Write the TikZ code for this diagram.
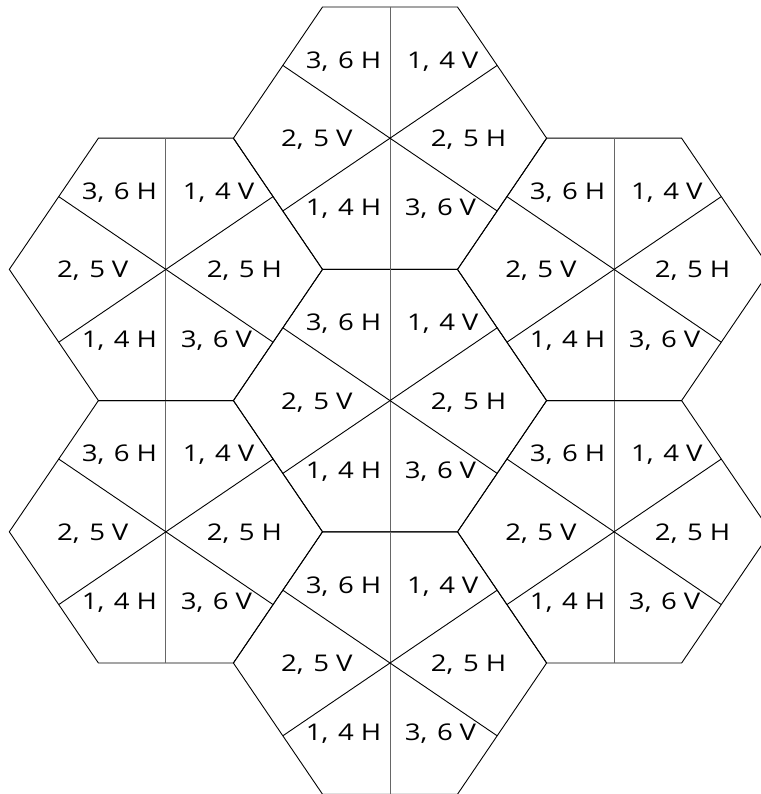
\documentclass[tikz,border=0pt]{standalone}
\usepackage{fontspec}
\setmainfont{Open Sans}[FakeStretch=1.2]
\usetikzlibrary{calc}
\newcommand{\hexlabel}[3]{#1,\kern2.5pt\ #2\kern-0.3pt\ #3}
\tikzset{
  hexedge/.style={line width=0.9pt, black},
  midline/.style={line width=0.9pt, black!60},
  lbl/.style={font=\fontsize{23}{26}\selectfont, anchor=base, inner sep=0pt},
}
\begin{document}
\begin{tikzpicture}[x=1pt,y=-1pt]
\useasboundingbox (0,0) rectangle (760,794);
\foreach \n/\cx/\cy in {T/390/138.2, C/390/400.6, B/390/663, TL/165.9/269.4, BL/165.9/531.8, TR/614.1/269.4, BR/614.1/531.8}{
  \coordinate (\n) at (\cx,\cy);
  \coordinate (\n-tr) at ($(\n)+(67.5,-131.2)$);
  \coordinate (\n-r)  at ($(\n)+(156.6,0)$);
  \coordinate (\n-br) at ($(\n)+(67.5,131.2)$);
  \coordinate (\n-bl) at ($(\n)+(-67.5,131.2)$);
  \coordinate (\n-l)  at ($(\n)+(-156.6,0)$);
  \coordinate (\n-tl) at ($(\n)+(-67.5,-131.2)$);
  \draw[hexedge] (\n-tr) -- (\n-r) -- (\n-br) -- (\n-bl) -- (\n-l) -- (\n-tl) -- cycle;
  \draw[midline] ($(\n-tl)!0.5!(\n-tr)$) -- ($(\n-bl)!0.5!(\n-br)$);
  \draw[hexedge] ($(\n-tl)!(\n)!(\n-l)$) -- ($(\n-br)!(\n)!(\n-r)$);
  \draw[hexedge] ($(\n-tr)!(\n)!(\n-r)$) -- ($(\n-bl)!(\n)!(\n-l)$);
  \node[lbl] (\n-ul) at ($(\n)+(-46.5,-70)$) {\hexlabel{3}{6}{H}};
  \node[lbl] (\n-ur) at ($(\n)+(52.7,-70)$) {\hexlabel{1}{4}{V}};
  \node[lbl] (\n-ml) at ($(\n)+(-73.2,8.5)$) {\hexlabel{2}{5}{V}};
  \node[lbl] (\n-mr) at ($(\n)+(78.5,8.5)$) {\hexlabel{2}{5}{H}};
  \node[lbl] (\n-ll) at ($(\n)+(-46.5,77.7)$) {\hexlabel{1}{4}{H}};
  \node[lbl] (\n-lr) at ($(\n)+(50.5,77.7)$) {\hexlabel{3}{6}{V}};
}
\end{tikzpicture}
\end{document}
